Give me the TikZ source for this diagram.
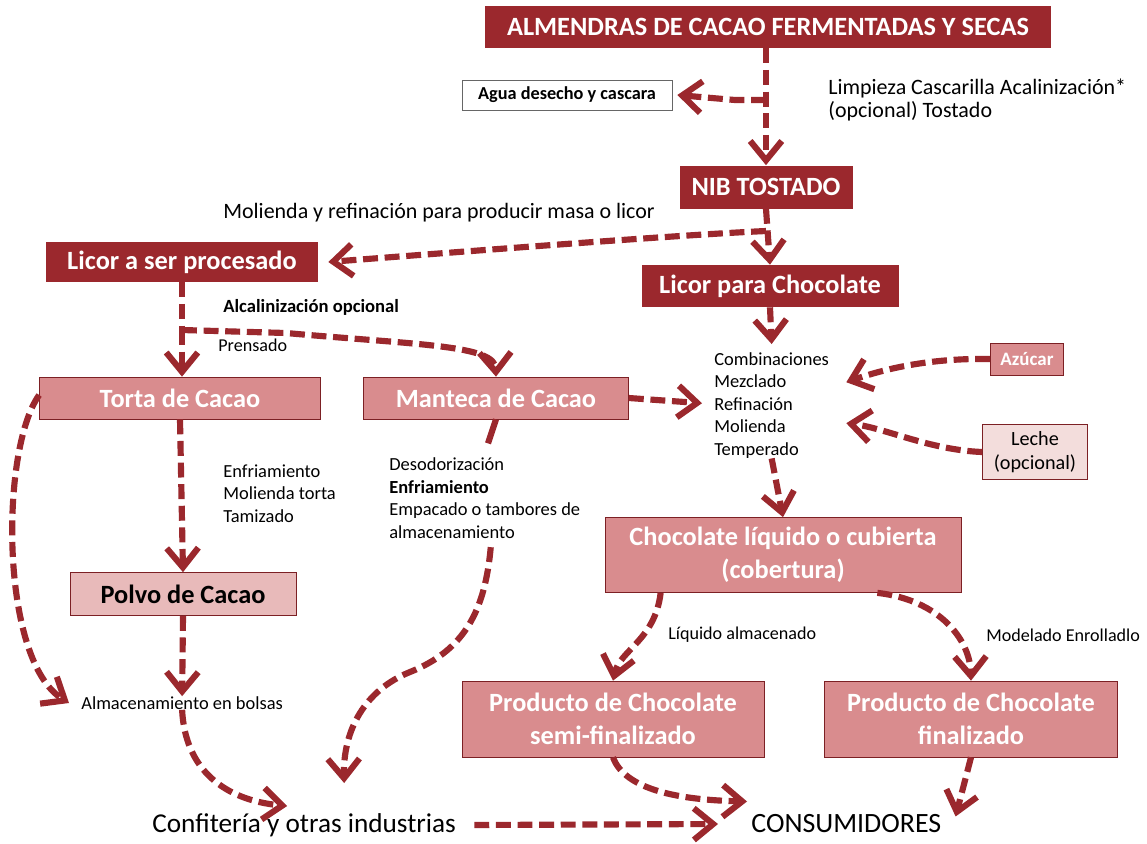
\documentclass[tikz,border=0pt]{standalone}
\usepackage{fontspec}
\setmainfont{Carlito}
\usetikzlibrary{arrows.meta}
\usetikzlibrary{calc}
\definecolor{cacao}{RGB}{155,40,45}
\definecolor{cacao-rosa}{RGB}{217,140,142}
\definecolor{cacao-polvo}{RGB}{232,186,186}
\definecolor{cacao-leche}{RGB}{243,221,220}
\colorlet{cacao-rand}{cacao!80!black}

\tikzset{
	boxsize/.style 2 args={minimum width=#1*0.02cm, minimum height=#2*0.02cm, inner sep=0pt},
	darkbox/.style={fill=cacao, text=white, font=\bfseries\fontsize{15}{18}\selectfont},
	rosebox/.style={fill=cacao-rosa, draw=cacao-rand, thin, text=white, font=\bfseries\fontsize{15}{18}\selectfont, align=center},
	paso/.style={font=\fontsize{10.5}{12.8}\selectfont, align=left, inner sep=0pt},
	flow/.style={cacao, line width=3.5pt, dash pattern=on 8.5pt off 3.8pt, -{Straight Barb[length=11pt,width=18pt,line width=3.5pt]}},
	stub/.style={cacao, line width=3.5pt, dash pattern=on 8.5pt off 3.8pt}
}

\begin{document}
\begin{tikzpicture}[x=0.02cm, y=-0.02cm]

	\useasboundingbox[fill=white] (0,0) rectangle (1147,843);

	% cajas
	\node[darkbox, boxsize={566}{42}] (almendras) at (768,27) {ALMENDRAS DE CACAO FERMENTADAS Y SECAS};
	\node[draw=black!60, thin, boxsize={210}{30}, font=\bfseries\fontsize{10.4}{12}\selectfont] (agua) at (567,95) {Agua desecho y cascara};
	\node[darkbox, boxsize={173}{43}] (nib) at (766,187) {NIB TOSTADO};
	\node[darkbox, boxsize={272}{40}] (licorproc) at (182,262) {Licor a ser procesado};
	\node[darkbox, boxsize={257}{42}] (licorchoc) at (770,286) {Licor para Chocolate};
	\node[rosebox, boxsize={281}{42}] (torta) at (180,398) {Torta de Cacao};
	\node[rosebox, boxsize={265}{42}] (manteca) at (496,398) {Manteca de Cacao};
	\node[rosebox, boxsize={226}{43}, fill=cacao-polvo, text=black] (polvo) at (183,594) {Polvo de Cacao};
	\node[rosebox, boxsize={73}{32}, font=\bfseries\fontsize{10.8}{12}\selectfont] (azucar) at (1027,359) {Azúcar};
	\node[rosebox, boxsize={105}{55}, fill=cacao-leche, text=black, font=\fontsize{11.5}{14}\selectfont] (leche) at (1035,452) {Leche\\(opcional)};
	\node[rosebox, boxsize={356}{75}, font=\bfseries\fontsize{15}{19}\selectfont] (cobertura) at (783,555) {Chocolate líquido o cubierta\\(cobertura)};
	\node[rosebox, boxsize={302}{76}, font=\bfseries\fontsize{15}{19}\selectfont] (semi) at (613,719) {Producto de Chocolate\\semi-finalizado};
	\node[rosebox, boxsize={293}{76}, font=\bfseries\fontsize{15}{19}\selectfont] (final) at (971,719) {Producto de Chocolate\\finalizado};

	% textos
	\node[paso, anchor=north west, font=\fontsize{12.5}{12.8}\selectfont] (limpieza) at (828,79) {Limpieza Cascarilla Acalinización*\\(opcional) Tostado};
	\node[paso, anchor=west, font=\fontsize{12.5}{14}\selectfont] (molienda) at (223,213) {Molienda y refinación para producir masa o licor};
	\node[paso, anchor=west, font=\bfseries\fontsize{10.6}{12}\selectfont] (alcal) at (223,307) {Alcalinización opcional};
	\node[paso, anchor=west, font=\fontsize{10.3}{12}\selectfont] (prensado) at (218,345) {Prensado};
	\node[paso, anchor=north west] (combin) at (714,352) {Combinaciones\\Mezclado\\Refinación\\Molienda\\Temperado};
	\node[paso, anchor=north west] (enfr) at (223,464) {Enfriamiento\\Molienda torta\\Tamizado};
	\node[paso, anchor=north west, font=\fontsize{10.5}{13}\selectfont] (desod) at (389,457) {Desodorización\\\textbf{Enfriamiento}\\Empacado o tambores de\\almacenamiento};
	\node[paso, anchor=west, font=\fontsize{10.3}{12}\selectfont] (liqalm) at (668,635) {Líquido almacenado};
	\node[paso, anchor=west, font=\fontsize{10.3}{12}\selectfont] (modelado) at (986,635) {Modelado Enrolladlo};
	\node[paso, anchor=west, font=\fontsize{10.5}{12}\selectfont] (almac) at (81,703) {Almacenamiento en bolsas};
	\node[paso, anchor=west, font=\fontsize{15.5}{17}\selectfont] (confit) at (152,825) {Confitería y otras industrias};
	\node[paso, anchor=west, font=\fontsize{15.9}{17}\selectfont] (consum) at (751,824) {CONSUMIDORES};

	% flechas
	\coordinate (corte1) at (766,100);
	\coordinate (corte2) at (766,231);
	\coordinate (corte3) at (182,330);

	\draw[flow] (almendras.south -| nib.north) -- (nib.north);
	\draw[flow] (corte1) -- (735,100) -- ($(agua.east)+(5,0)$);
	\draw[flow] (nib.south) -- (licorchoc.north);
	\draw[flow] (corte2) .. controls (700,234) and (560,244) .. ($(licorproc.east)+(10,0)$);
	\draw[stub] (licorproc.south -| corte3) -- (corte3);
	\draw[flow] (corte3) -- (torta.north -| corte3);
	\draw[flow] (corte3) -- (286,333) .. controls (420,345) and (495,345) .. (manteca.north);
	\draw[flow] (licorchoc.south) -- ($(combin.north)+(0,-8)$);
	\draw[flow] (manteca.east) -- ($(combin.west)+(-12,-2)$);
	\draw[flow] (azucar.west) .. controls (935,358) and (890,367) .. ($(combin.east)+(17,-23)$);
	\draw[flow] (leche.west) .. controls (930,450) and (885,428) .. ($(combin.east)+(17,18)$);
	\draw[flow] (combin.south) -- (cobertura.north);
	\draw[flow] (torta.south) -- (polvo.north);
	\draw[flow] ($(torta.west)+(0,-3)$) .. controls (0,450) and (0,660) .. ($(almac.west)+(-12,0)$);
	\draw[flow] (polvo.south) -- (almac.north);
	\draw[stub, solid] (manteca.south) -- ++(-8,24);
	\draw[flow] ($(desod.south)+(6,8)$) .. controls (485,610) and (465,650) .. (410,672) .. controls (365,690) and (343,730) .. ($(confit.north)+(40,-30)$);
	\draw[flow] (almac.south) .. controls (185,770) and (225,800) .. ($(confit.north)+(-17,-7)$);
	\draw[flow] ($(confit.east)+(18,0)$) -- ($(consum.west)+(-33,0)$);
	\draw[flow] (semi.south) .. controls (625,790) and (680,800) .. ($(consum.north west)+(-4,-13)$);
	\draw[flow] (final.south) -- ($(consum.north east)+(14,2)$);
	\draw[flow] ($(cobertura.south west)+(56,0)$) .. controls (655,640) and (620,650) .. (semi.north);
	\draw[flow] ($(cobertura.south east)+(-84,0)$) .. controls (940,600) and (970,640) .. (final.north);

\end{tikzpicture}
\end{document}
